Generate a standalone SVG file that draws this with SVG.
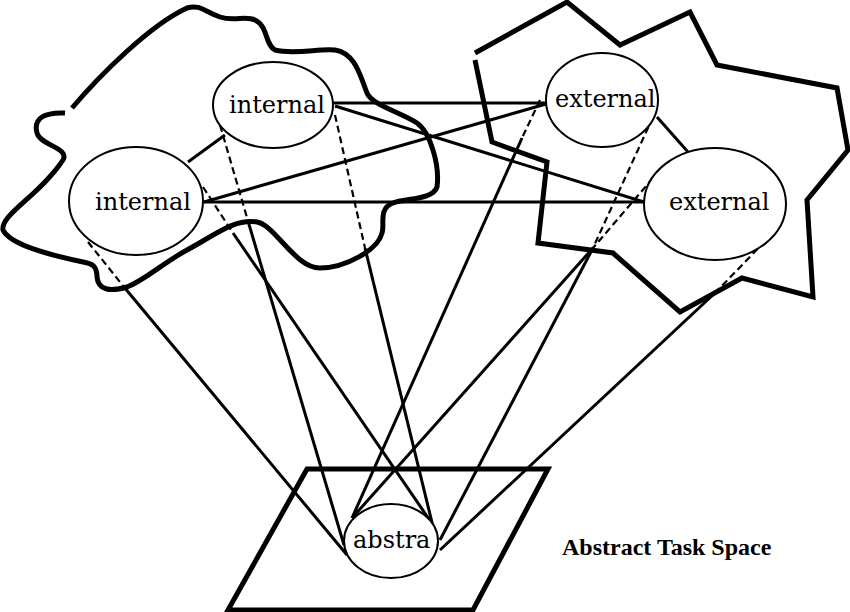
<svg xmlns="http://www.w3.org/2000/svg" width="850" height="612" viewBox="0 0 850 612">
<style>
.region{fill:none;stroke:#000;stroke-width:5;stroke-linejoin:miter;stroke-linecap:butt}
.cloud{fill:none;stroke:#000;stroke-width:5;stroke-linejoin:round;stroke-linecap:butt}
.node{fill:#fff;stroke:#000;stroke-width:2}
.lbl{font-family:"DejaVu Serif","Liberation Serif",serif;font-size:24px;fill:#000}
.title{font-family:"Liberation Serif","Times New Roman",serif;font-size:24px;font-weight:bold;fill:#000}
.c{stroke:#000;stroke-width:3;fill:none}
.d{stroke:#000;stroke-width:2.2;fill:none;stroke-dasharray:7 4}
</style>
<rect width="850" height="612" fill="#fff"/>
<g id="internal-region">
<path class="cloud" d="M72,108 C100,75 150,25 187,8 C200,4 205,12 220,17 C235,22 245,15 255,20 C268,26 265,45 275,50 C295,55 320,48 335,50 C355,53 360,75 367,93 C372,105 400,112 417,123 C430,132 440,165 437,187 C433,200 405,198 393,203 C378,208 385,225 382,233 C378,250 345,268 320,268 C295,268 275,225 257,222 C235,218 215,235 187,250 C160,265 145,280 127,287 C110,292 98,290 97,277 C97,265 92,264 83,262 C50,255 10,245 3,230 C0,215 40,195 63,160 C70,148 40,145 37,133 C33,118 45,112 65,113"/>
</g>
<g id="external-region">
<polyline class="region" points="475,60 492,142 547,162 538,243 613,253 680,312 742,278 813,297 807,200 848,150 837,88 717,65 690,12 620,45 567,2 475,53"/>
</g>
<g id="task-space">
<polygon class="region" points="307,469 548,469 473,610 228,610"/>
</g>
<g id="connectors">
<line class="c" x1="333" y1="103" x2="546" y2="103"/>
<line class="c" x1="335" y1="106" x2="644" y2="202"/>
<line class="c" x1="204" y1="202" x2="546" y2="104"/>
<line class="c" x1="204" y1="202" x2="644" y2="202"/>
<line class="c" x1="188" y1="162" x2="225" y2="135"/>
<line class="c" x1="657" y1="117" x2="688" y2="152"/>
<line class="d" x1="88" y1="242" x2="124" y2="287"/>
<line class="c" x1="124" y1="287" x2="347" y2="555"/>
<line class="d" x1="203" y1="187" x2="233" y2="233"/>
<line class="c" x1="233" y1="233" x2="433" y2="525"/>
<line class="d" x1="220" y1="125" x2="248" y2="221"/>
<line class="c" x1="248" y1="221" x2="344" y2="545"/>
<line class="d" x1="335" y1="115" x2="365" y2="248"/>
<line class="c" x1="365" y1="248" x2="437" y2="543"/>
<line class="d" x1="540" y1="100" x2="522" y2="138"/>
<line class="c" x1="522" y1="138" x2="352" y2="518"/>
<line class="d" x1="653" y1="117" x2="593" y2="248"/>
<line class="c" x1="593" y1="248" x2="440" y2="540"/>
<line class="d" x1="653" y1="178" x2="593" y2="248"/>
<line class="c" x1="593" y1="248" x2="352" y2="518"/>
<line class="d" x1="773" y1="233" x2="716" y2="292"/>
<line class="c" x1="716" y1="292" x2="440" y2="550"/>
</g>
<g id="node-internal-top">
<ellipse class="node" cx="273" cy="105" rx="60" ry="43"/>
<text class="lbl" x="229" y="113">internal</text>
</g>
<g id="node-internal-left">
<ellipse class="node" cx="136" cy="201" rx="67" ry="54"/>
<text class="lbl" x="95" y="210">internal</text>
</g>
<g id="node-external-top">
<ellipse class="node" cx="602" cy="100" rx="56" ry="47"/>
<text class="lbl" x="555" y="107">external</text>
</g>
<g id="node-external-right">
<ellipse class="node" cx="715" cy="204" rx="71" ry="56"/>
<text class="lbl" x="669" y="210">external</text>
</g>
<g id="node-abstract">
<ellipse class="node" cx="391" cy="541" rx="47" ry="37"/>
<text class="lbl" x="353" y="548">abstra</text>
</g>
<text class="title" x="562" y="555">Abstract Task Space</text>
</svg>
